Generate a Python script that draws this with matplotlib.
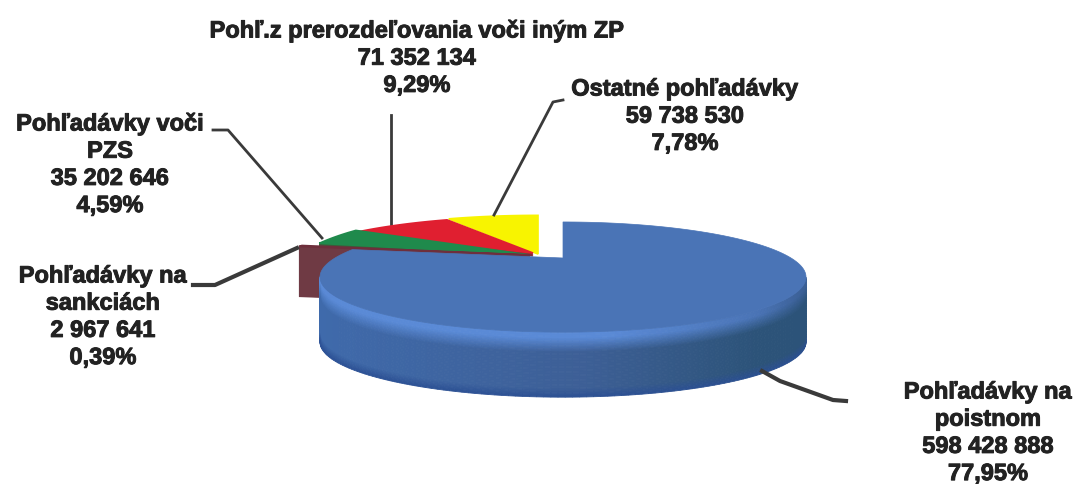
import numpy as np
from matplotlib import pyplot as plt
from matplotlib import patheffects
from matplotlib.colors import to_rgb

# Slice values, clockwise from 12 o'clock
names = ['Pohľadávky na\npoistnom', 'Pohľadávky na\nsankciách', 'Pohľadávky voči\nPZS',
         'Pohľ.z prerozdeľovania voči iným ZP', 'Ostatné pohľadávky']
values = [598428888, 2967641, 35202646, 71352134, 59738530]
value_labels = ['598 428 888', '2 967 641', '35 202 646', '71 352 134', '59 738 530']
percents = ['77,95%', '0,39%', '4,59%', '9,29%', '7,78%']

top_colors = ['#4a74b6', '#6e2f3c', '#1f8a4c', '#e01f30', '#f8f400']
side_colors = ['#3d5f96', '#6f3a44', '#3f5a3a', '#8a2a35', '#b0b040']

# per slice geometry in pixels: apex, radius, squash, wall height
apex_x = [563, 530, 530, 533, 538]
apex_y = [258, 255, 255, 253, 254]
radius = [228, 250, 231, 239, 248]
squash = [48.5, 49, 60, 49, 52]
walls = [65, 50, 3, 3, 0]
d = 2.89  # perspective distance

# label centre and y of the first line, in pixels
label_pos = [(988, 392), (103, 276), (110, 124), (417, 31), (685, 89)]
line_gap = 27.2

# leader lines, in pixels
leaders = [
    ([762, 780, 833, 846], [371, 381, 400, 401], 3),
    ([297, 215, 193], [248, 285, 285], 3),
    ([213, 228, 322], [130, 130, 238], 2),
    ([391, 391], [115, 224], 2),
    ([494, 553, 563], [215, 102, 100], 2),
]


def slice_outline(i, start, end):
    a = np.radians(np.linspace(start, end, 240))
    X, Y = np.r_[0, np.sin(a)], np.r_[0, np.cos(a)]
    f = d / (d + Y)
    return apex_x[i] + radius[i] * X * f, apex_y[i] - squash[i] * Y * f


def wall_color(u, v):
    # u runs left to right over the pie, v from rim to bottom of the wall
    stops = [0, 0.55, 0.9, 1]
    body = [np.interp(u, stops, [a, b, c, c]) for a, b, c in
            zip(to_rgb('#3f6aab'), to_rgb('#3d5f96'), to_rgb('#2c5379'))]
    rim = [np.interp(u, [0, 0.6, 0.9, 1], [a, a, b, c]) for a, b, c in
           zip(to_rgb('#5a8ad6'), to_rgb('#4a74b6'), to_rgb('#3a5f95'))]
    edge = to_rgb('#2b4f93')
    return [np.interp(v, [0, 0.08, 0.3, 0.85, 1], [t, t, m, m, e])
            for t, m, e in zip(rim, body, edge)]


fig = plt.figure(figsize=(10.77, 4.84), dpi=100)
ax = fig.add_axes([0, 0, 1, 1])
ax.set_xlim(0, 1077)
ax.set_ylim(484, 0)
ax.axis('off')

angles = np.r_[0, np.cumsum(values)] / sum(values) * 360

# back slices first, the big blue one goes on top
for i in [4, 3, 2, 1]:
    x, y = slice_outline(i, angles[i], angles[i + 1])
    if walls[i] > 0:
        for k in np.arange(walls[i], 0, -1):
            ax.fill(x, y + k, color=side_colors[i], lw=0.8, zorder=2)
    ax.fill(x, y, color=top_colors[i], lw=1.2, zorder=3)

# blue slice: shaded outer wall (front part only), then the flat top
x, y = slice_outline(0, angles[0], angles[1])
arc_x, arc_y = x[1:], y[1:]
left, right = x.min(), x.max()
first, last = np.argmax(arc_x), np.argmin(arc_x)
v_edges = np.linspace(0, 1, 41)
for j in range(first, last):
    u = (arc_x[j] - left) / (right - left)
    for n in range(len(v_edges) - 1):
        v0, v1 = v_edges[n], v_edges[n + 1]
        ax.fill([arc_x[j], arc_x[j + 1], arc_x[j + 1], arc_x[j]],
                [arc_y[j] + v0 * walls[0], arc_y[j + 1] + v0 * walls[0],
                 arc_y[j + 1] + v1 * walls[0], arc_y[j] + v1 * walls[0]],
                color=wall_color(u, v0), lw=0.6, zorder=4)
ax.fill(x, y, color=top_colors[0], lw=0.5, zorder=5)

for lx, ly, lw in leaders:
    ax.plot(lx, ly, color='#3a3a3a', lw=lw, zorder=1 if lx[0] == 391 else 6)

plt.rcParams['font.family'] = ['Liberation Sans', 'DejaVu Sans']
for name, val, pct, (px, py) in zip(names, value_labels, percents, label_pos):
    lines = name.split('\n') + [val, pct]
    for j, line in enumerate(lines):
        ax.text(px, py + j * line_gap, line, ha='center', va='center', fontsize=17,
                fontweight='bold', color='#222222', zorder=7,
                path_effects=[patheffects.withStroke(linewidth=0.7, foreground='#222222')])

fig.savefig('out.png', dpi=100)
